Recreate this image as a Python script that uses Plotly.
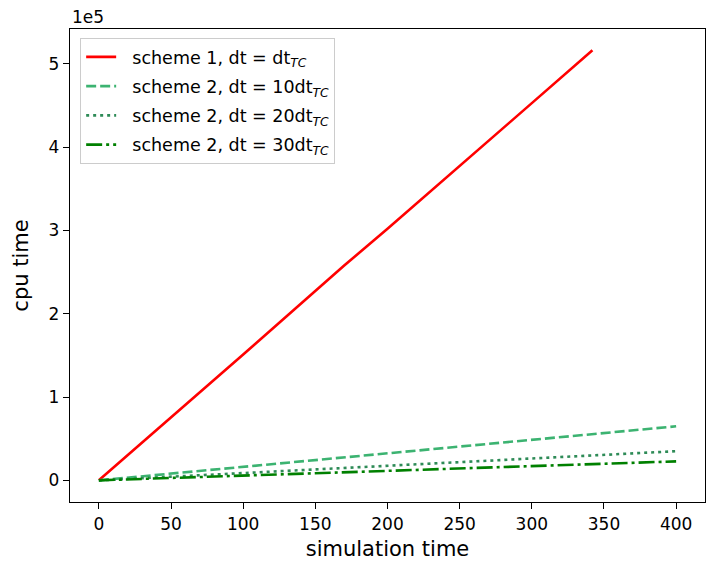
import plotly.graph_objects as go

# simulation time vs cpu time for the two schemes
t_scheme1 = [0, 100, 170, 200, 300, 342]
cpu_scheme1 = [0, 151000, 258000, 302000, 453000, 516500]

t_scheme2 = [0, 100, 200, 300, 400]
cpu_dt10 = [0, 16200, 32400, 48700, 64900]
cpu_dt20 = [0, 8750, 17500, 26200, 35000]
cpu_dt30 = [0, 5700, 11400, 17100, 22800]

x_ticks = [0, 50, 100, 150, 200, 250, 300, 350, 400]
y_ticks = [0, 100000, 200000, 300000, 400000, 500000]
y_tick_text = ["0", "1", "2", "3", "4", "5"]

FONT = "DejaVu Sans"
LW = 2.6
PAD = "&nbsp;&nbsp;"

fig = go.Figure()
fig.add_trace(go.Scatter(
    x=t_scheme1, y=cpu_scheme1, mode="lines", legendgroup="s1",
    name=PAD + "scheme 1, dt = dt<sub><i>TC</i></sub>",
    line=dict(color="red", width=LW)))
fig.add_trace(go.Scatter(
    x=t_scheme2, y=cpu_dt10, mode="lines", legendgroup="s2a",
    name=PAD + "scheme 2, dt = 10dt<sub><i>TC</i></sub>",
    line=dict(color="mediumseagreen", width=LW, dash="10px,4px")))
fig.add_trace(go.Scatter(
    x=t_scheme2, y=cpu_dt20, mode="lines", legendgroup="s2b",
    name=PAD + "scheme 2, dt = 20dt<sub><i>TC</i></sub>",
    line=dict(color="seagreen", width=LW, dash="3px,4px")))
fig.add_trace(go.Scatter(
    x=t_scheme2, y=cpu_dt30, mode="lines", legendgroup="s2c",
    name=PAD + "scheme 2, dt = 30dt<sub><i>TC</i></sub>",
    line=dict(color="green", width=LW, dash="16px,4px,3px,4px")))

axis_common = dict(
    showline=True, linecolor="black", linewidth=1.4, mirror=True,
    ticks="outside", ticklen=6, tickwidth=1.4, tickcolor="black",
    showgrid=False, zeroline=False,
    tickfont=dict(family=FONT, size=17, color="black"),
)

fig.update_layout(
    width=711, height=565,
    margin=dict(l=70, r=6, t=29, b=63),
    paper_bgcolor="white", plot_bgcolor="white",
    font=dict(family=FONT, color="black"),
    xaxis=dict(range=[-20, 420], tickvals=x_ticks,
               title=dict(text="simulation time", font=dict(family=FONT, size=21), standoff=8),
               **axis_common),
    yaxis=dict(range=[-26000, 542000], tickvals=y_ticks, ticktext=y_tick_text,
               title=dict(text="cpu time", font=dict(family=FONT, size=21), standoff=14),
               **axis_common),
    legend=dict(x=0.016, y=0.981, xanchor="left", yanchor="top",
                bgcolor="rgba(255,255,255,0.8)", bordercolor="#cccccc", borderwidth=1,
                tracegroupgap=3.5,
                font=dict(family=FONT, size=17.5, color="black")),
    showlegend=True,
)

fig.add_annotation(text="1e5", xref="paper", yref="paper", x=0, y=1,
                   xanchor="left", yanchor="bottom", showarrow=False,
                   font=dict(family=FONT, size=17, color="black"))

fig.write_html("out.html")
